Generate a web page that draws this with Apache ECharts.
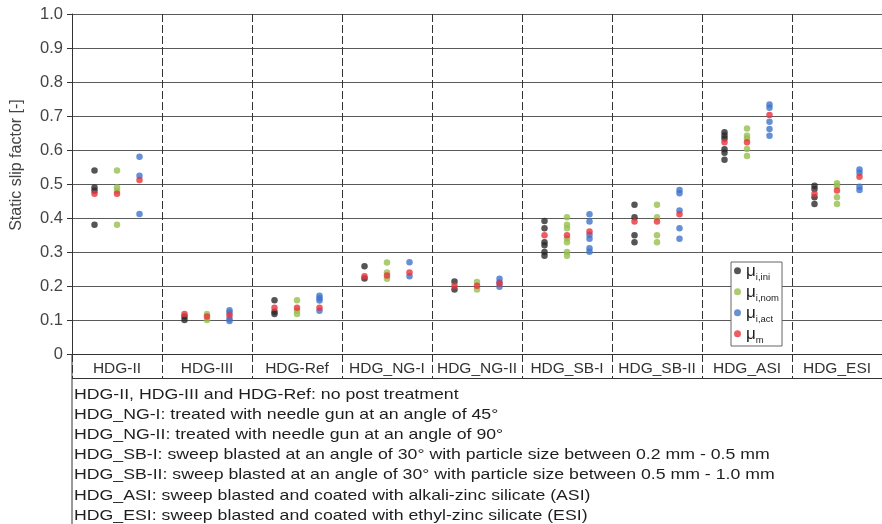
<!DOCTYPE html>
<html>
<head>
<meta charset="utf-8">
<script src="https://cdn.jsdelivr.net/npm/echarts@6/dist/echarts.min.js"></script>
<style>
html,body{margin:0;padding:0;background:#fff;}
#chart{width:882px;height:524px;}
</style>
</head>
<body>
<div id="chart"></div>
<script>
// ---- data ----
const categories = ['HDG-II','HDG-III','HDG-Ref','HDG_NG-I','HDG_NG-II','HDG_SB-I','HDG_SB-II','HDG_ASI','HDG_ESI'];
const yTicks = ['0','0.1','0.2','0.3','0.4','0.5','0.6','0.7','0.8','0.9','1.0'];

// μ_i,ini values per category
const ini = [
  [0.54, 0.49, 0.48, 0.38],
  [0.11, 0.10],
  [0.158, 0.124, 0.118],
  [0.258, 0.222],
  [0.213, 0.190],
  [0.391, 0.370, 0.329, 0.320, 0.300, 0.289],
  [0.439, 0.402, 0.349, 0.329],
  [0.652, 0.643, 0.634, 0.602, 0.592, 0.571],
  [0.495, 0.485, 0.461, 0.441]
];
// μ_i,nom values per category
const nom = [
  [0.54, 0.49, 0.48, 0.38],
  [0.118, 0.10],
  [0.158, 0.127, 0.118],
  [0.269, 0.240, 0.221],
  [0.212, 0.190],
  [0.402, 0.380, 0.370, 0.340, 0.329, 0.300, 0.289],
  [0.439, 0.402, 0.349, 0.329],
  [0.663, 0.642, 0.634, 0.603, 0.582],
  [0.502, 0.494, 0.461, 0.441]
];
// μ_i,act values per category
const act = [
  [0.58, 0.524, 0.412],
  [0.129, 0.121, 0.104, 0.097],
  [0.171, 0.164, 0.157, 0.127],
  [0.270, 0.229],
  [0.221, 0.210, 0.198],
  [0.411, 0.390, 0.351, 0.339, 0.311, 0.301],
  [0.482, 0.473, 0.422, 0.370, 0.339],
  [0.734, 0.724, 0.683, 0.662, 0.642],
  [0.543, 0.533, 0.492, 0.482]
];
// μ_m (mean) for the ini / nom / act columns
const meanIni = [0.471, 0.118, 0.136, 0.229, 0.201, 0.349, 0.390, 0.623, 0.471];
const meanNom = [0.471, 0.110, 0.136, 0.231, 0.201, 0.349, 0.390, 0.623, 0.481];
const meanAct = [0.512, 0.114, 0.136, 0.240, 0.207, 0.360, 0.411, 0.703, 0.521];

const legendNames = ['i,ini', 'i,nom', 'i,act', 'm'];

const notes = [
  'HDG-II, HDG-III and HDG-Ref: no post treatment',
  'HDG_NG-I: treated with needle gun at an angle of 45°',
  'HDG_NG-II: treated with needle gun at an angle of 90°',
  'HDG_SB-I: sweep blasted at an angle of 30° with particle size between 0.2 mm - 0.5 mm',
  'HDG_SB-II: sweep blasted at an angle of 30° with particle size between 0.5 mm - 1.0 mm',
  'HDG_ASI: sweep blasted and coated with alkali-zinc silicate (ASI)',
  'HDG_ESI: sweep blasted and coated with ethyl-zinc silicate (ESI)'
];

// ---- build ----
const OFF = 0.25;
function pts(arr, off) {
  const out = [];
  arr.forEach((vals, i) => vals.forEach(v => out.push([i + off, v])));
  return out;
}
const meanPts = [];
meanIni.forEach((v, i) => meanPts.push([i - OFF, v]));
meanNom.forEach((v, i) => meanPts.push([i, v]));
meanAct.forEach((v, i) => meanPts.push([i + OFF, v]));

const colors = ['#2b2b2b', '#96bf4d', '#3f74cc', '#e8323c'];
const FONT = 'Liberation Sans, Arial, sans-serif';

const chart = echarts.init(document.getElementById('chart'), null, {renderer: 'canvas'});

const noteGraphics = notes.map((t, k) => ({
  type: 'text', x: 74, y: 394.5 + k * 20.2, scaleX: 1.18,
  style: {text: t, font: '15px ' + FONT, fill: '#1e1e1e', textVerticalAlign: 'middle'}
}));

const option = {
  animation: false,
  backgroundColor: '#fff',
  textStyle: {fontFamily: FONT},
  grid: {left: 72, top: 14, width: 821, height: 340},
  xAxis: [
    {
      type: 'category', data: categories, boundaryGap: true,
      axisLine: {show: true, lineStyle: {color: '#333', width: 1}},
      axisTick: {show: true, length: 24, lineStyle: {color: '#333', type: [8, 3]}},
      axisLabel: {color: '#333', fontSize: 15.5, margin: 7, fontFamily: FONT, interval: 0},
      splitLine: {show: true, lineStyle: {color: '#333', type: [8, 3], width: 1}}
    },
    {type: 'value', min: -0.5, max: 8.5, show: false}
  ],
  yAxis: {
    type: 'value', min: 0, max: 1, interval: 0.1,
    axisLine: {show: true, onZero: false, lineStyle: {color: '#333'}},
    axisTick: {show: true, length: 5, lineStyle: {color: '#333'}},
    axisLabel: {color: '#444', fontSize: 16.5, margin: 9, fontFamily: FONT,
      formatter: v => yTicks[Math.round(v * 10)]},
    splitLine: {show: true, lineStyle: {color: '#5a5a5a', width: 1}}
  },
  legend: {
    orient: 'vertical', left: 731, top: 262,
    data: legendNames,
    icon: 'circle', itemWidth: 7, itemHeight: 7, itemGap: 2,
    padding: [1, 3, 1, 3],
    backgroundColor: '#fff', borderColor: '#666', borderWidth: 1, borderRadius: 0,
    formatter: n => '{mu|μ}{sub|' + n + '}',
    textStyle: {
      color: '#222',
      rich: {
        mu: {fontSize: 17, fontFamily: FONT, color: '#222', lineHeight: 18.5, verticalAlign: 'bottom'},
        sub: {fontSize: 9.5, fontFamily: FONT, color: '#222', lineHeight: 18.5, verticalAlign: 'bottom', padding: [0, 0, -2, 0]}
      }
    }
  },
  graphic: [
    {type: 'line', shape: {x1: 72, y1: 354, x2: 72, y2: 524}, style: {stroke: '#333', lineWidth: 1}},
    {type: 'line', shape: {x1: 72, y1: 378.5, x2: 882, y2: 378.5}, style: {stroke: '#333', lineWidth: 1}},
    {type: 'text', x: 17, y: 165, rotation: Math.PI / 2,
      style: {text: 'Static slip factor [-]', font: '16px ' + FONT, fill: '#444', textAlign: 'center', textVerticalAlign: 'middle'}}
  ].concat(noteGraphics),
  series: [
    {name: legendNames[0], type: 'scatter', xAxisIndex: 1, symbolSize: 6.5, itemStyle: {color: colors[0]}, data: pts(ini, -OFF)},
    {name: legendNames[1], type: 'scatter', xAxisIndex: 1, symbolSize: 6.5, itemStyle: {color: colors[1]}, data: pts(nom, 0)},
    {name: legendNames[2], type: 'scatter', xAxisIndex: 1, symbolSize: 6.5, itemStyle: {color: colors[2]}, data: pts(act, OFF)},
    {name: legendNames[3], type: 'scatter', xAxisIndex: 1, symbolSize: 6.5, itemStyle: {color: colors[3]}, data: meanPts}
  ]
};
chart.setOption(option);
</script>
</body>
</html>
